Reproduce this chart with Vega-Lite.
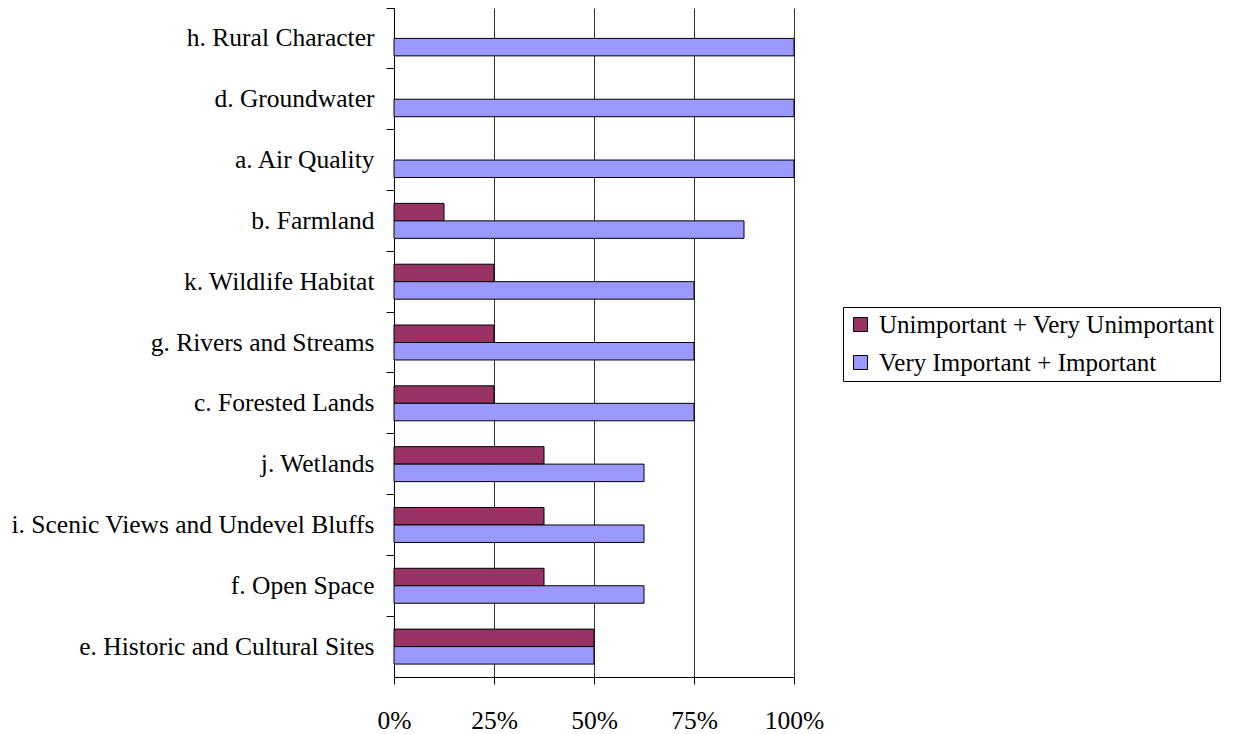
{
  "$schema": "https://vega.github.io/schema/vega-lite/v6.json",
  "autosize": "none",
  "padding": {"left": 394, "top": 8, "right": 441, "bottom": 57},
  "width": 400,
  "height": 669,
  "background": "white",
  "config": {
    "view": {"stroke": null},
    "font": "Liberation Serif"
  },
  "data": {
    "values": [
      {"item": "h. Rural Character", "series": "Unimportant + Very Unimportant", "value": 0},
      {"item": "h. Rural Character", "series": "Very Important + Important", "value": 1},
      {"item": "d. Groundwater", "series": "Unimportant + Very Unimportant", "value": 0},
      {"item": "d. Groundwater", "series": "Very Important + Important", "value": 1},
      {"item": "a. Air Quality", "series": "Unimportant + Very Unimportant", "value": 0},
      {"item": "a. Air Quality", "series": "Very Important + Important", "value": 1},
      {"item": "b. Farmland", "series": "Unimportant + Very Unimportant", "value": 0.125},
      {"item": "b. Farmland", "series": "Very Important + Important", "value": 0.875},
      {"item": "k. Wildlife Habitat", "series": "Unimportant + Very Unimportant", "value": 0.25},
      {"item": "k. Wildlife Habitat", "series": "Very Important + Important", "value": 0.75},
      {"item": "g. Rivers and Streams", "series": "Unimportant + Very Unimportant", "value": 0.25},
      {"item": "g. Rivers and Streams", "series": "Very Important + Important", "value": 0.75},
      {"item": "c. Forested Lands", "series": "Unimportant + Very Unimportant", "value": 0.25},
      {"item": "c. Forested Lands", "series": "Very Important + Important", "value": 0.75},
      {"item": "j. Wetlands", "series": "Unimportant + Very Unimportant", "value": 0.375},
      {"item": "j. Wetlands", "series": "Very Important + Important", "value": 0.625},
      {"item": "i. Scenic Views and Undevel Bluffs", "series": "Unimportant + Very Unimportant", "value": 0.375},
      {"item": "i. Scenic Views and Undevel Bluffs", "series": "Very Important + Important", "value": 0.625},
      {"item": "f.  Open Space", "series": "Unimportant + Very Unimportant", "value": 0.375},
      {"item": "f.  Open Space", "series": "Very Important + Important", "value": 0.625},
      {"item": "e. Historic and Cultural Sites", "series": "Unimportant + Very Unimportant", "value": 0.5},
      {"item": "e. Historic and Cultural Sites", "series": "Very Important + Important", "value": 0.5}
    ]
  },
  "transform": [{"filter": "datum.value > 0"}],
  "mark": {"type": "bar", "stroke": "black", "strokeWidth": 1},
  "encoding": {
    "y": {
      "field": "item",
      "type": "nominal",
      "sort": null,
      "scale": {
        "domain": ["h. Rural Character", "d. Groundwater", "a. Air Quality", "b. Farmland", "k. Wildlife Habitat", "g. Rivers and Streams", "c. Forested Lands", "j. Wetlands", "i. Scenic Views and Undevel Bluffs", "f.  Open Space", "e. Historic and Cultural Sites"],
        "paddingInner": 0, "paddingOuter": 0
      },
      "axis": {
        "title": null,
        "bandPosition": 0,
        "domainColor": "black",
        "tickColor": "black",
        "tickSize": 8,
        "labelFont": "Liberation Serif",
        "labelFontSize": 25.5,
        "labelColor": "black",
        "labelPadding": 12,
        "labelLimit": 500
      }
    },
    "yOffset": {
      "field": "series",
      "type": "nominal",
      "scale": {"domain": ["Unimportant + Very Unimportant", "Very Important + Important"], "paddingInner": 0, "paddingOuter": 0.74}
    },
    "x": {
      "field": "value",
      "type": "quantitative",
      "scale": {"domain": [0, 1], "nice": false},
      "axis": {
        "title": null,
        "values": [0, 0.25, 0.5, 0.75, 1],
        "format": ".0%",
        "grid": true,
        "gridColor": "#333",
        "gridWidth": 1,
        "domainColor": "black",
        "tickColor": "black",
        "tickSize": 7,
        "labelFlush": false,
        "labelOverlap": false,
        "labelFont": "Liberation Serif",
        "labelFontSize": 25.5,
        "labelColor": "black",
        "labelPadding": 24
      }
    },
    "color": {
      "field": "series",
      "type": "nominal",
      "scale": {
        "domain": ["Unimportant + Very Unimportant", "Very Important + Important"],
        "range": ["#993366", "#9999FF"]
      },
      "legend": {
        "title": null,
        "orient": "none",
        "legendX": 449,
        "legendY": 299,
        "symbolType": "square",
        "symbolSize": 196,
        "symbolStrokeColor": "black",
        "symbolStrokeWidth": 1,
        "symbolOpacity": 1,
        "labelFont": "Liberation Serif",
        "labelFontSize": 25,
        "labelColor": "black",
        "labelLimit": 500,
        "labelOffset": 6,
        "rowPadding": 12,
        "strokeColor": "black",
        "padding": 5,
        "fillColor": "white"
      }
    }
  }
}
